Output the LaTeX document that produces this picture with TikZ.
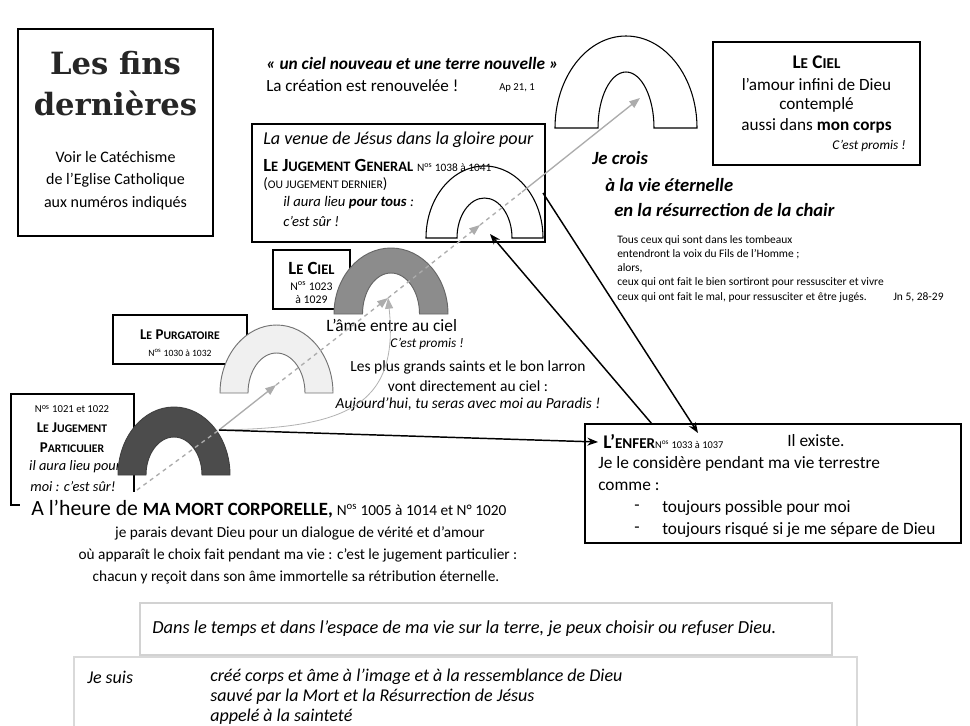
\documentclass[tikz,border=0pt]{standalone}
\usepackage{fontspec}
\setmainfont{Carlito}
\newfontfamily\titlefont{DejaVu Serif}
\usetikzlibrary{fit,arrows.meta}
\newcommand\setfs[1]{\fontsize{#1}{#1}\selectfont}
\newcommand\fsc[1]{\scalebox{0.78}{#1}}
\newcommand\archshape[7]{%
  \path[#7] (#1-#3,#2) arc[start angle=180,end angle=360,x radius=#3,y radius=#4]
    -- (#1+#5,#2) arc[start angle=0,end angle=-180,x radius=#5,y radius=#6] -- cycle;}
\tikzset{
  box/.style={draw, line width=0.8pt, fill=white, inner sep=0pt},
  txt/.style={inner sep=0pt, anchor=west},
  ctxt/.style={inner sep=0pt},
  rtxt/.style={inner sep=0pt, anchor=east},
  gline/.style={gray!65, line width=1pt},
  ghead/.style={-{Triangle[length=8pt,width=6pt]}},
  bline/.style={black, line width=1.1pt},
  bhead/.style={-{Stealth[length=8pt,width=6pt]}}
}
\begin{document}
\begin{tikzpicture}[x=0.75pt,y=-0.75pt,font=\setfs{13}]
\useasboundingbox (0,0) rectangle (970,725);
\fill[white] (0,0) rectangle (970,725);

% ---- bottom boxes
\node[fit={(74,657)(857,740)}, draw=gray!30, line width=0.8pt, inner sep=0pt] (suisbox) {};
\node[fit={(140,603)(832,655)}, draw=gray!35, line width=0.8pt, fill=white, inner sep=0pt] (dansbox) {};
\node[txt, font=\setfs{13.8}\itshape] (dans) at (152,629) {Dans le temps et dans l’espace de ma vie sur la terre, je peux choisir ou refuser Dieu.};
\node[txt, font=\setfs{13.5}\itshape] (jesuis) at (87,677) {Je suis};
\node[txt, font=\setfs{13.5}\itshape] (s1) at (210,677) {créé corps et âme à l’image et à la ressemblance de Dieu};
\node[txt, font=\setfs{13.5}\itshape] (s2) at (210,697) {sauvé par la Mort et la Résurrection de Jésus};
\node[txt, font=\setfs{13.5}\itshape] (s3) at (210,717) {appelé à la sainteté};

% ---- title box
\node[box, fit={(18,29)(213,236)}] (titlebox) {};
\node[ctxt, font=\titlefont\bfseries\setfs{23}, text=black!85] (t1) at (115.5,63) {Les fins};
\node[ctxt, font=\titlefont\bfseries\setfs{23}, text=black!85] (t2) at (115.5,103) {dernières};
\node[ctxt, font=\setfs{12}] (v1) at (115.5,157) {Voir le Catéchisme};
\node[ctxt, font=\setfs{12}] (v2) at (115.5,180) {de l’Eglise Catholique};
\node[ctxt, font=\setfs{12}] (v3) at (115.5,203) {aux numéros indiqués};

% ---- quote
\node[txt, font=\setfs{13}\bfseries\itshape] (q1) at (266,63) {« un ciel nouveau et une terre nouvelle »};
\node[txt, font=\setfs{12.8}] (q2) at (266,86) {La création est renouvelée !};
\node[txt, font=\setfs{8}] (q3) at (499,88) {Ap 21, 1};

% ---- top arch and Le Ciel box
\archshape{626}{128}{71}{92}{28}{56}{draw, line width=0.8pt, fill=white}
\coordinate (topin) at (640,98);
\node[box, fit={(713,42)(920,165)}] (cielbox) {};
\node[ctxt, font=\setfs{14.5}\bfseries] (c1) at (816.5,62) {L\fsc{E} C\fsc{IEL}};
\node[ctxt, font=\setfs{12.9}] (c2) at (816.5,84) {l’amour infini de Dieu};
\node[ctxt, font=\setfs{12.9}] (c3) at (816.5,105) {contemplé};
\node[ctxt, font=\setfs{12.9}] (c4) at (816.5,126) {aussi dans \textbf{mon corps}};
\node[rtxt, font=\setfs{10}\itshape] (c5) at (906,146) {C’est promis !};

% ---- jugement general
\node[box, fit={(252,124)(545,242)}] (jgbox) {};
\archshape{484.5}{238}{58.5}{72}{27.5}{40}{draw, line width=0.8pt, fill=white}
\node[txt, font=\setfs{13.6}\itshape] (g1) at (263,140) {La venue de Jésus dans la gloire pour};
\node[txt] (g2) at (263,165) {{\setfs{13.9}\bfseries L\fsc{E} J\fsc{UGEMENT} G\fsc{ENERAL}} {\setfs{8.5}N\textsuperscript{os} 1038 à 1041}};
\node[txt, font=\setfs{11.2}] (g3) at (263,184) {(\fsc{OU JUGEMENT DERNIER})};
\node[txt, font=\setfs{11}\itshape] (g4) at (283,203) {il aura lieu \textbf{pour tous} :};
\node[txt, font=\setfs{11}\itshape] (g5) at (283,221) {c’est sûr !};
\coordinate (jgR) at (543,193);
\coordinate (jgin) at (480,225);
\coordinate (jgin2) at (490,234);
\coordinate (jgout) at (522,192);

% ---- le ciel (particulier)
\node[box, fit={(273,250)(350,309)}] (cielbox2) {};
\node[ctxt, font=\setfs{14}\bfseries] (m1) at (311.5,268) {L\fsc{E} C\fsc{IEL}};
\node[ctxt, font=\setfs{8.8}] (m2) at (311.5,286) {N\textsuperscript{os} 1023};
\node[ctxt, font=\setfs{8.8}] (m3) at (311.5,300) {à 1029};
\archshape{391}{314}{57}{66}{28.5}{41}{draw=black!60, line width=0.7pt, fill=black!45}
\coordinate (cielin) at (388,298);

% ---- purgatoire
\node[box, fit={(113,315)(247,364)}] (purgbox) {};
\node[ctxt, font=\setfs{11.2}\bfseries] (p1) at (180,335) {L\fsc{E} P\fsc{URGATOIRE}};
\node[ctxt, font=\setfs{7.2}] (p2) at (180,353) {N\textsuperscript{os} 1030 à 1032};
\archshape{276.5}{393}{56.5}{68}{28.5}{40}{draw=black!55, line width=0.7pt, fill=black!6}
\coordinate (purg) at (276,385);

% ---- jugement particulier
\node[box, fit={(11,394)(134,505)}] (jpbox) {};
\node[ctxt, font=\setfs{8}] (j1) at (72,409) {N\textsuperscript{os} 1021 et 1022};
\node[ctxt, font=\setfs{11.2}\bfseries] (j2) at (72,428) {L\fsc{E} J\fsc{UGEMENT}};
\node[ctxt, font=\setfs{11.2}\bfseries] (j3) at (72,448) {P\fsc{ARTICULIER}};
\node[ctxt, font=\setfs{10.8}\itshape] (j4) at (75,467) {il aura lieu pour};
\node[ctxt, font=\setfs{10.8}\itshape] (j5) at (73,487) {moi : c’est sûr!};
\archshape{174}{475}{56}{68}{28}{38}{draw=black!75, line width=0.7pt, fill=black!70}
\coordinate (jpR) at (219,430);
\coordinate (g0) at (137,490);

% ---- mort corporelle
\fill[white] (20,492) rectangle (440,522);
\node[txt] (h1) at (31,509) {{\setfs{16.3}A l’heure de }{\setfs{18}\bfseries \fsc{MA MORT CORPORELLE,}} {\setfs{11.5}N\textsuperscript{os} 1005 à 1014 et N° 1020}};
\node[ctxt, font=\setfs{11.5}] (h2) at (300,533) {je parais devant Dieu pour un dialogue de vérité et d’amour};
\node[ctxt, font=\setfs{11.5}] (h3) at (298,555) {où apparaît le choix fait pendant ma vie : c’est le jugement particulier :};
\node[ctxt, font=\setfs{11.5}] (h4) at (296,577) {chacun y reçoit dans son âme immortelle sa rétribution éternelle.};

% ---- middle texts
\node[txt, font=\setfs{13}] (a1) at (326,325) {L’âme entre au ciel};
\node[rtxt, font=\setfs{10}\itshape] (a2) at (464,344) {C’est promis !};
\node[ctxt, font=\setfs{11.6}] (a3) at (468,367) {Les plus grands saints et le bon larron};
\node[ctxt, font=\setfs{11.6}] (a4) at (468,386) {vont directement au ciel :};
\node[ctxt, font=\setfs{11.5}\itshape] (a5) at (468,404) {Aujourd’hui, tu seras avec moi au Paradis !};

% ---- je crois
\node[txt, font=\setfs{14}\bfseries\itshape] (k1) at (592,158) {Je crois};
\node[txt, font=\setfs{14}\bfseries\itshape] (k2) at (605,185) {à la vie éternelle};
\node[txt, font=\setfs{14}\bfseries\itshape] (k3) at (614,210) {en la résurrection de la chair};
\node[txt, font=\setfs{8.6}] (n1) at (617,240) {Tous ceux qui sont dans les tombeaux};
\node[txt, font=\setfs{8.6}] (n2) at (617,254) {entendront la voix du Fils de l’Homme ;};
\node[txt, font=\setfs{8.6}] (n3) at (617,268) {alors,};
\node[txt, font=\setfs{8.6}] (n4) at (617,282) {ceux qui ont fait le bien sortiront pour ressusciter et vivre};
\node[txt, font=\setfs{8.6}] (n5) at (617,297) {ceux qui ont fait le mal, pour ressusciter et être jugés.};
\node[txt, font=\setfs{8.6}] (n6) at (893,297) {Jn 5, 28-29};

% ---- l'enfer
\node[box, fit={(585,424)(961,543)}] (enferbox) {};
\node[txt] (e1) at (603,441) {{\setfs{14.5}\bfseries L’\fsc{ENFER}}{\setfs{7.8}N\textsuperscript{os} 1033 à 1037}};
\node[txt, font=\setfs{13}] (e2) at (787,441) {Il existe.};
\node[txt, font=\setfs{13}] (e3) at (598,464) {Je le considère pendant ma vie terrestre};
\node[txt, font=\setfs{13}] (e4) at (598,486) {comme :};
\node[txt, font=\setfs{13}] (e5) at (634,508) {-};
\node[txt, font=\setfs{13}] (e6) at (662,508) {toujours possible pour moi};
\node[txt, font=\setfs{13}] (e7) at (634,530) {-};
\node[txt, font=\setfs{13}] (e8) at (662,530) {toujours risqué si je me sépare de Dieu};
\coordinate (enfW) at (598,442);
\coordinate (enfT1) at (652,424);
\coordinate (enfT2) at (698,433);

% ---- gray connectors
\draw[gline, dashed] (g0) -- (jpR);
\draw[gline, ghead] (jpR) -- (purg);
\draw[gline, dashed, ghead] (purg) -- (cielin);
\draw[gline, dashed, ghead] (cielin) -- (jgin);
\draw[gline, dashed] (jgin) -- (jgout);
\draw[gline, ghead] (jgout) -- (topin);
\draw[gray!60, line width=0.6pt, ghead] (jpR) .. controls (340,428) and (400,410) .. (cielin);

% ---- black connectors
\draw[bline, bhead] (jpR) -- (enfW);
\draw[bline, bhead] (jgR) -- (enfT2);
\draw[bline, bhead] (enfT1) -- (jgin2);
\end{tikzpicture}
\end{document}
